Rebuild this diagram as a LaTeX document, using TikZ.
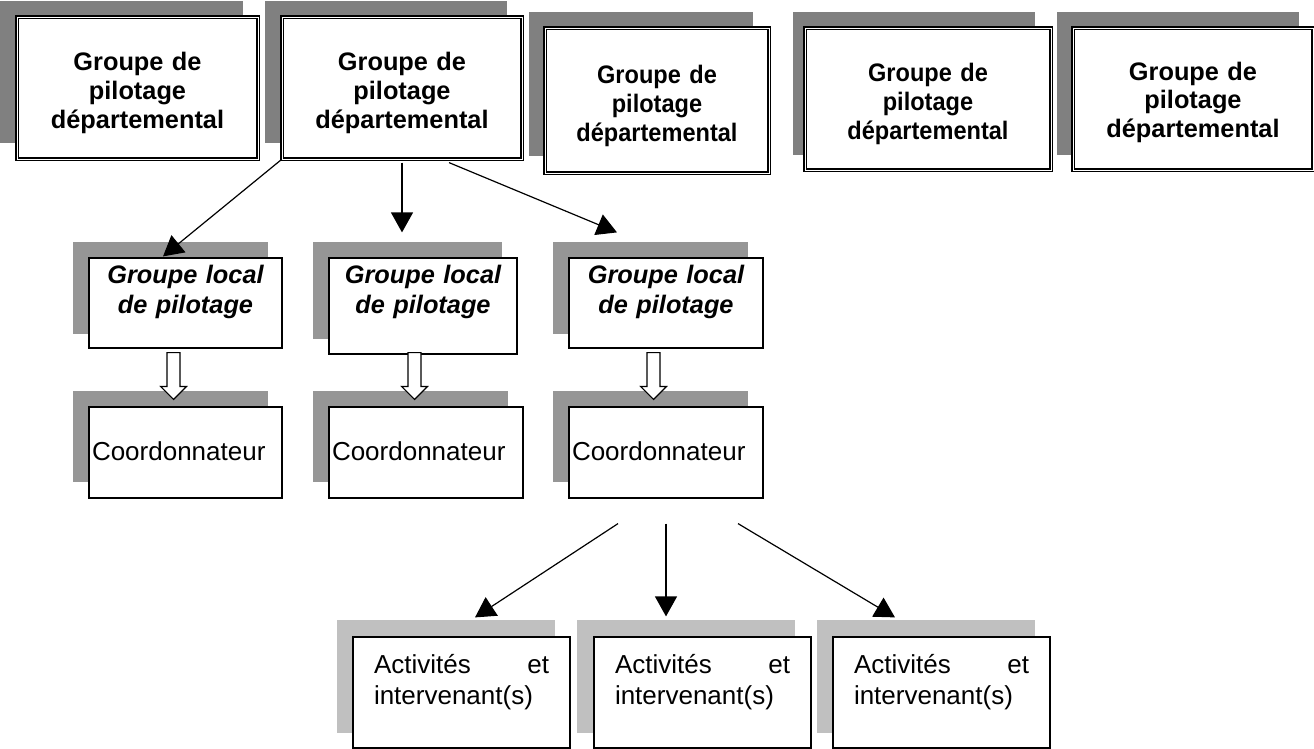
\documentclass[tikz,border=0pt]{standalone}
\usepackage{fontspec}
\setmainfont{Liberation Sans}
\newfontfamily\narrowsans[FakeStretch=0.93]{Liberation Sans}
\usetikzlibrary{positioning, arrows.meta, calc}

% hollow block arrow from #1 to tip #2
\newcommand{\hollowarrow}[2]{%
    \draw [line width=0.9pt, fill=white] ($(#1)+(-6.5,0)$) -- ($(#2)+(-6.5,-13)$) -- ($(#2)+(-13,-13)$) -- (#2) -- ($(#2)+(13,-13)$) -- ($(#2)+(6.5,-13)$) -- ($(#1)+(6.5,0)$) -- cycle ;}

\tikzset{
    depbox/.style={draw, double, line width=0.9pt, double distance=0.7pt, fill=white, inner sep=0pt, align=center, font=\fontsize{19}{21.5}\selectfont\bfseries},
    locbox/.style={draw, line width=0.9pt, fill=white, inner sep=0pt, align=center, text height=18.75pt, font=\fontsize{19}{22.5}\selectfont\bfseries\itshape},
    coordbox/.style={draw, line width=0.9pt, fill=white, inner sep=0pt, inner xsep=2.25pt, align=left, text height=39.75pt, text depth=28.5pt, font=\fontsize{19.5}{23}\selectfont},
    actbox/.style={draw, line width=0.9pt, fill=white, inner sep=0pt, inner xsep=15.75pt, text width=131.25pt, align=left, text height=27pt, text depth=56.25pt, font=\fontsize{19.5}{23.25}\selectfont},
    link/.style={line width=0.9pt, -{Triangle[length=15pt, width=16.5pt]}}
}

\begin{document}
\begin{tikzpicture}[x=0.75pt,y=0.75pt,yscale=-1,xscale=1]
    \useasboundingbox (0,0) rectangle (1314,749);

    %Shadows of the top row
    \fill [fill={rgb, 255:red, 128; green, 128; blue, 128 }] (0,1) rectangle (243,143) ;
    \fill [fill={rgb, 255:red, 128; green, 128; blue, 128 }] (265,1) rectangle (507,143) ;
    \fill [fill={rgb, 255:red, 128; green, 128; blue, 128 }] (529,12) rectangle (753,156) ;
    \fill [fill={rgb, 255:red, 128; green, 128; blue, 128 }] (793,12) rectangle (1035,155) ;
    \fill [fill={rgb, 255:red, 128; green, 128; blue, 128 }] (1057,12) rectangle (1299,155) ;
    %Shadows of the middle rows
    \fill [fill={rgb, 255:red, 150; green, 150; blue, 150 }] (73,242) rectangle (268,334) ;
    \fill [fill={rgb, 255:red, 150; green, 150; blue, 150 }] (313,242) rectangle (502,339) ;
    \fill [fill={rgb, 255:red, 150; green, 150; blue, 150 }] (553,242) rectangle (748,334) ;
    \fill [fill={rgb, 255:red, 150; green, 150; blue, 150 }] (73,391) rectangle (268,482) ;
    \fill [fill={rgb, 255:red, 150; green, 150; blue, 150 }] (313,391) rectangle (508,482) ;
    \fill [fill={rgb, 255:red, 150; green, 150; blue, 150 }] (553,391) rectangle (748,482) ;
    %Shadows of the bottom row
    \fill [fill={rgb, 255:red, 192; green, 192; blue, 192 }] (337,620) rectangle (555,733) ;
    \fill [fill={rgb, 255:red, 192; green, 192; blue, 192 }] (577,620) rectangle (795,733) ;
    \fill [fill={rgb, 255:red, 192; green, 192; blue, 192 }] (817,620) rectangle (1035,733) ;

    % Top row
    \node [depbox, text width=180.75pt, text height=40.3pt, text depth=66.2pt] (dep1) at (137.5,88) {Groupe de\\pilotage\\départemental};
    \node [depbox, text width=180pt, text height=40.3pt, text depth=66.2pt] (dep2) at (402,88) {Groupe de\\pilotage\\départemental};
    \node [depbox, text width=168pt, text height=41.5pt, text depth=67.25pt, font=\fontsize{19}{21.7}\selectfont\narrowsans\bfseries] (dep3) at (657,100.5) {Groupe de\\pilotage\\départemental};
    \node [depbox, text width=184.5pt, text height=40.5pt, text depth=66pt, font=\fontsize{19}{21.5}\selectfont\narrowsans\bfseries] (dep4) at (928,99) {Groupe de\\pilotage\\départemental};
    \node [depbox, text width=180pt, text height=39pt, text depth=67.5pt] (dep5) at (1193,99) {Groupe de\\pilotage\\départemental};

    % Local groups
    \node [locbox, text width=144.75pt, text depth=48.75pt] (loc1) at (185.5,303) {Groupe local\\de pilotage};
    \node [locbox, text width=141pt, text depth=53.25pt] (loc2) at (423,306) {Groupe local\\de pilotage};
    \node [locbox, text width=145.5pt, text depth=48.75pt] (loc3) at (666,303) {Groupe local\\de pilotage};

    % Coordinators
    \node [coordbox, text width=140.25pt] (co1) at (185.5,452.5) {Coordonnateur};
    \node [coordbox, text width=141pt] (co2) at (426,452.5) {Coordonnateur};
    \node [coordbox, text width=141pt] (co3) at (666,452.5) {Coordonnateur};

    % Activities
    \node [actbox] (ac1) at (461.5,692.5) {Activités\hfill et\\intervenant(s)};
    \node [actbox] (ac2) at (702.5,692.5) {Activités\hfill et\\intervenant(s)};
    \node [actbox] (ac3) at (941.5,692.5) {Activités\hfill et\\intervenant(s)};

    % Arrow ends
    \coordinate (a1) at ($(loc1.north)+(-22.5,-1)$);
    \coordinate (a2) at ($(loc2.north)+(-21,-25)$);
    \coordinate (a3) at ($(loc3.north)+(-49,-25)$);
    \coordinate (b0) at ($(co3.south)+(-48,25)$);
    \coordinate (b2) at ($(co3.south)+(0,25)$);
    \coordinate (b4) at ($(co3.south)+(72,25)$);
    \coordinate (b1) at ($(ac1.north)+(13.5,-19)$);
    \coordinate (b3) at ($(ac2.north)+(-36.5,-20)$);
    \coordinate (b5) at ($(ac3.north)+(-46.5,-19)$);

    %Straight Lines
    \draw [link] (dep2.south west) -- (a1) ;
    \draw [link] ($(dep2.south)+(0,3)$) -- (a2) ;
    \draw [link] ($(dep2.south)+(47,3)$) -- (a3) ;
    \draw [link] (b0) -- (b1) ;
    \draw [link] (b2) -- (b3) ;
    \draw [link] (b4) -- (b5) ;

    %Hollow arrows
    \coordinate (h1s) at ($(loc1.south)+(-12,4)$);
    \coordinate (h1t) at ($(co1.north)+(-12,-7)$);
    \coordinate (h2s) at ($(loc2.south)+(-8.5,-2)$);
    \coordinate (h2t) at ($(co2.north)+(-11.5,-7)$);
    \coordinate (h3s) at ($(loc3.south)+(-12.5,4)$);
    \coordinate (h3t) at ($(co3.north)+(-12.5,-7)$);
    \hollowarrow{h1s}{h1t}
    \hollowarrow{h2s}{h2t}
    \hollowarrow{h3s}{h3t}

\end{tikzpicture}
\end{document}
